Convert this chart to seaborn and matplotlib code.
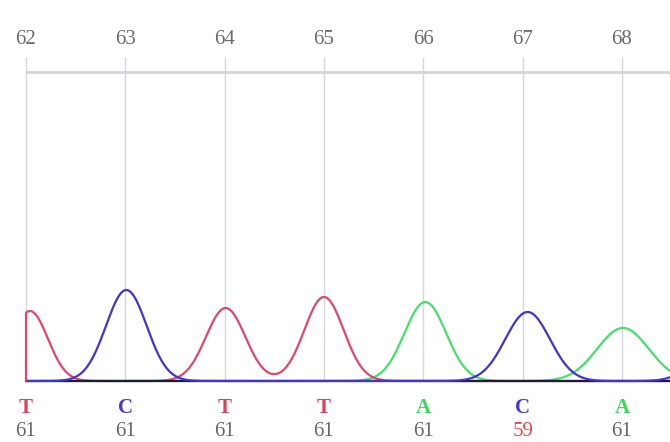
import numpy as np
import pandas as pd
import matplotlib
matplotlib.use("Agg")
import matplotlib.pyplot as plt
import seaborn as sns

# ---- data ----
positions = [62, 63, 64, 65, 66, 67, 68]
bases = ["T", "C", "T", "T", "A", "C", "A"]
quality = [61, 61, 61, 61, 61, 59, 61]
peak_centers = [62.04, 63.01, 64.01, 65.0, 66.02, 67.05, 68.01]
peak_heights = [70, 91, 73, 84, 79, 69, 53]
peak_widths = [0.18, 0.205, 0.198, 0.198, 0.21, 0.225, 0.26]
# partial peak just beyond the right edge
extra_base = ["C"]
extra_center = [69.1]
extra_height = [80]
extra_width = [0.25]

base_colors = {"T": "#e0476a", "C": "#4333cf", "A": "#45e06a", "G": "#1a1a3a"}
text_colors = {"T": "#e0405c", "C": "#4a3acb", "A": "#3ad85c"}

sns.set_theme(style="white")
plt.rcParams["font.family"] = ["Liberation Serif", "DejaVu Serif"]

# build trace table
x = np.linspace(62.0, 68.6, 1400)
all_b = bases + extra_base
all_c = peak_centers + extra_center
all_h = peak_heights + extra_height
all_w = peak_widths + extra_width
traces = {b: np.zeros_like(x) for b in ["A", "T", "G", "C"]}
for b, c, h, w in zip(all_b, all_c, all_h, all_w):
    traces[b] += h * np.exp(-0.5 * ((x - c) / w) ** 2)
frames = []
for b in ["A", "T", "G", "C"]:
    frames.append(pd.DataFrame({"pos": x, "signal": traces[b], "base": b}))
df = pd.concat(frames, ignore_index=True)

fig = plt.figure(figsize=(6.7, 4.42), dpi=100, facecolor="white")
ax = fig.add_axes([0, 0, 1, 1 - 5 / 442])
ax.set_facecolor("#eeeff4")

# grid lines
ax.vlines(positions, 0, 324, color="#d6d7dd", lw=1.0, zorder=1)
ax.hlines(309, 62, 68.6, color="#d3d4da", lw=2.0, zorder=1)

sns.lineplot(data=df, x="pos", y="signal", hue="base",
             hue_order=["A", "T", "G", "C"], palette=base_colors,
             sort=False, lw=1.6, legend=False, ax=ax, zorder=3)
# vertical start of the first trace
ax.vlines(62.0, 0, traces["T"][0], color=base_colors["T"], lw=1.6, zorder=3)

for p in positions:
    ax.text(p, 341, str(p), ha="center", va="center", fontsize=15, color="#6b6b6b")
for p, b, q in zip(positions, bases, quality):
    ax.text(p, -27, b, ha="center", va="center", fontsize=15, fontweight="bold",
            color=text_colors[b])
    ax.text(p, -50, str(q), ha="center", va="center", fontsize=15,
            color="#e84848" if q < 60 else "#666666")

ax.set_xlim(62 - 26 / 99.33, 62 + 644 / 99.33)
ax.set_ylim(-61, 376)
ax.axis("off")

fig.savefig("out.png", dpi=100, facecolor="white")
